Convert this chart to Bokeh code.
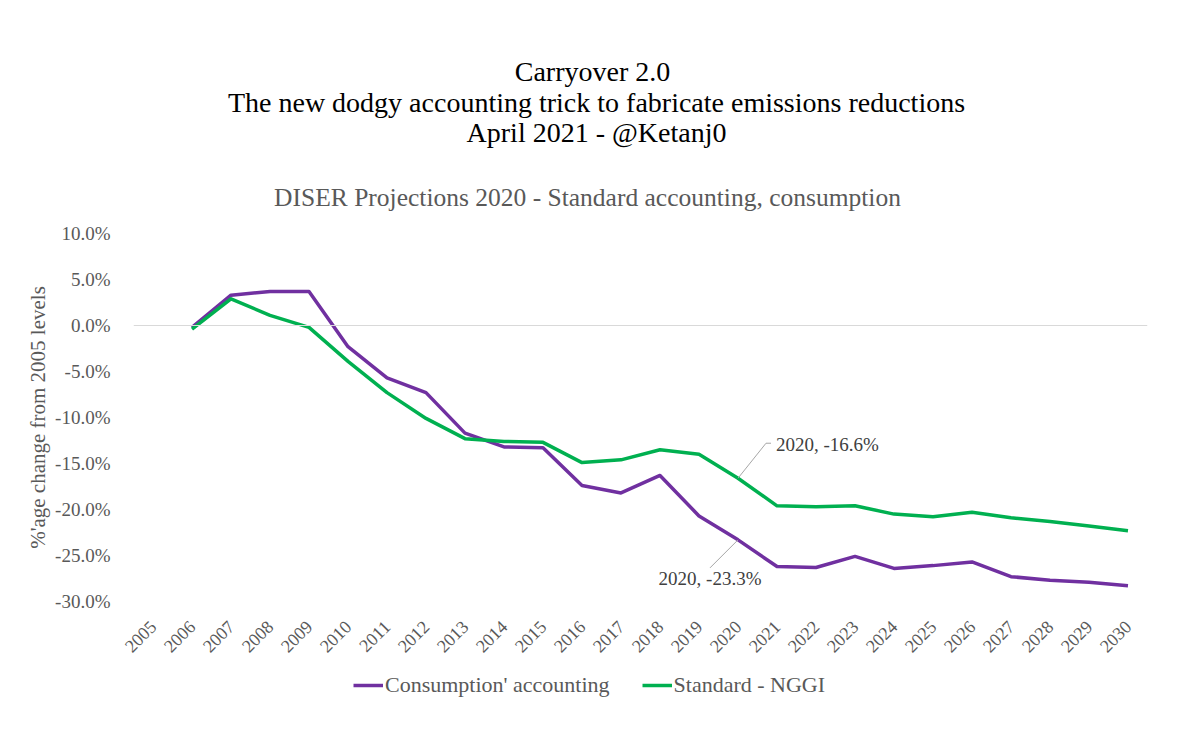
import math
from bokeh.plotting import figure
from bokeh.layouts import column
from bokeh.models import (FactorRange, Range1d, FixedTicker, PrintfTickFormatter,
                          Span, Label, Legend, LegendItem)
from bokeh.core.properties import value
from bokeh.embed import file_html
from bokeh.resources import INLINE

# ---------------- data ----------------
years = [str(y) for y in range(2005, 2031)]
data_years = [str(y) for y in range(2006, 2031)]
consumption = [-0.2, 3.3, 3.7, 3.7, -2.3, -5.7, -7.3, -11.7, -13.2, -13.3,
               -17.4, -18.2, -16.3, -20.7, -23.3, -26.2, -26.3, -25.1, -26.4,
               -26.1, -25.7, -27.3, -27.7, -27.9, -28.3]
standard = [-0.4, 2.9, 1.1, -0.2, -3.9, -7.3, -10.1, -12.3, -12.6, -12.7,
            -14.9, -14.6, -13.5, -14.0, -16.6, -19.6, -19.7, -19.6, -20.5,
            -20.8, -20.3, -20.9, -21.3, -21.8, -22.3]
y_ticks = [-30, -25, -20, -15, -10, -5, 0, 5, 10]
series_names = ["Consumption' accounting", "Standard - NGGI"]
title_lines = ["Carryover 2.0",
               "The new dodgy accounting trick to fabricate emissions reductions",
               "April 2021 - @Ketanj0"]
subtitle = "DISER Projections 2020 - Standard accounting, consumption"
y_label = "%'age change from 2005 levels"
note_year = "2020"

FONT = "Liberation Serif"
PURPLE = "#7030A0"
GREEN = "#00B050"
GRAY = "#595959"
LINE_W = 3.5

W = 1200
FRAME_L, FRAME_R = 133, 1147          # shared (aligned) frame edges of the column
HEAD_H = 218
MAIN_TOP = 15
MAIN_H = 452
FOOT_H = 736 - HEAD_H - MAIN_H
FRAME_H = 368

# ---------------- header (titles) ----------------
h = figure(width=W, height=HEAD_H, x_range=Range1d(FRAME_L, FRAME_R), y_range=Range1d(HEAD_H, 0),
           x_axis_location=None, y_axis_location=None,
           output_backend="svg", toolbar_location=None, min_border=0,
           min_border_left=FRAME_L, min_border_right=W - FRAME_R)
h.grid.visible = False
h.outline_line_color = None
h.text(x=[592, 596, 596], y=[71, 102, 132], text=title_lines,
       text_font=value(FONT), text_font_size="28px", text_color="black",
       text_align="center", text_baseline="middle")
h.text(x=[587], y=[197], text=[subtitle],
       text_font=value(FONT), text_font_size="25.5px", text_color=GRAY,
       text_align="center", text_baseline="middle")

# ---------------- main chart ----------------
p = figure(width=W, height=MAIN_H,
           x_range=FactorRange(*years),
           y_range=Range1d(-30, 10),
           output_backend="svg", toolbar_location=None,
           min_border_left=FRAME_L, min_border_right=W - FRAME_R,
           min_border_top=MAIN_TOP, min_border_bottom=MAIN_H - MAIN_TOP - FRAME_H)
p.outline_line_color = None
p.xgrid.visible = False
p.ygrid.visible = False

p.add_layout(Span(location=0, dimension="width", line_color="#d9d9d9", line_width=1))

p.line(data_years, consumption, line_color=PURPLE, line_width=LINE_W, line_join="round")
p.line(data_years, standard, line_color=GREEN, line_width=LINE_W, line_join="round")

p.yaxis.ticker = FixedTicker(ticks=y_ticks)
p.yaxis.formatter = PrintfTickFormatter(format="%.1f%%")
p.yaxis.axis_line_color = None
p.yaxis.major_tick_line_color = None
p.yaxis.minor_tick_line_color = None
p.yaxis.major_label_standoff = 17
p.yaxis.major_label_text_font = FONT
p.yaxis.major_label_text_font_size = "19px"
p.yaxis.major_label_text_color = GRAY
p.yaxis.axis_label = y_label
p.yaxis.axis_label_text_font = FONT
p.yaxis.axis_label_text_font_size = "21px"
p.yaxis.axis_label_text_font_style = "normal"
p.yaxis.axis_label_text_color = GRAY
p.yaxis.axis_label_standoff = 2

p.xaxis.axis_line_color = None
p.xaxis.major_tick_line_color = None
p.xaxis.minor_tick_line_color = None
p.xaxis.major_label_orientation = math.pi / 4
p.xaxis.major_label_standoff = 16
p.xaxis.major_label_text_font = FONT
p.xaxis.major_label_text_font_size = "18px"
p.xaxis.major_label_text_color = GRAY

# callouts for 2020
i_note = data_years.index(note_year)
xn = years.index(note_year) + 0.5
ys = standard[i_note]
yc = consumption[i_note]
px_cat = 39.0
px_pct = 9.2
p.line([xn, xn + 28 / px_cat, xn + 33 / px_cat],
       [ys, ys + 35 / px_pct, ys + 35 / px_pct], line_color="#a6a6a6", line_width=1)
p.line([xn, xn - 28 / px_cat], [yc, yc - 28 / px_pct], line_color="#a6a6a6", line_width=1)
p.add_layout(Label(x=xn, y=ys, x_offset=38, y_offset=34,
                   text=f"{note_year}, {ys:.1f}%", text_align="left", text_baseline="middle",
                   text_font=FONT, text_font_size="19px", text_color="#404040"))
p.add_layout(Label(x=xn, y=yc, x_offset=-28, y_offset=-39,
                   text=f"{note_year}, {yc:.1f}%", text_align="center", text_baseline="middle",
                   text_font=FONT, text_font_size="19px", text_color="#404040"))

# ---------------- footer (legend) ----------------
f = figure(width=W, height=FOOT_H, x_range=Range1d(0, 1), y_range=Range1d(0, 1),
           x_axis_location=None, y_axis_location=None,
           output_backend="svg", toolbar_location=None, min_border=0,
           min_border_left=FRAME_L, min_border_right=W - FRAME_R)
f.grid.visible = False
f.outline_line_color = None
nan = float("nan")
k1 = f.line(x=[nan], y=[nan], line_color=PURPLE, line_width=LINE_W)
k2 = f.line(x=[nan], y=[nan], line_color=GREEN, line_width=LINE_W)
legend = Legend(items=[LegendItem(label=series_names[0], renderers=[k1]),
                       LegendItem(label=series_names[1], renderers=[k2])],
                orientation="horizontal", location=(353 - FRAME_L, FOOT_H - 28),
                glyph_width=30, glyph_height=20, label_height=20, label_standoff=2,
                spacing=32, padding=0, margin=0, border_line_color=None,
                background_fill_alpha=0, label_text_font=FONT,
                label_text_font_size="22px", label_text_color=GRAY)
f.add_layout(legend, "center")

layout = column(h, p, f, spacing=0)
open("out.html", "w").write(file_html(layout, INLINE))
